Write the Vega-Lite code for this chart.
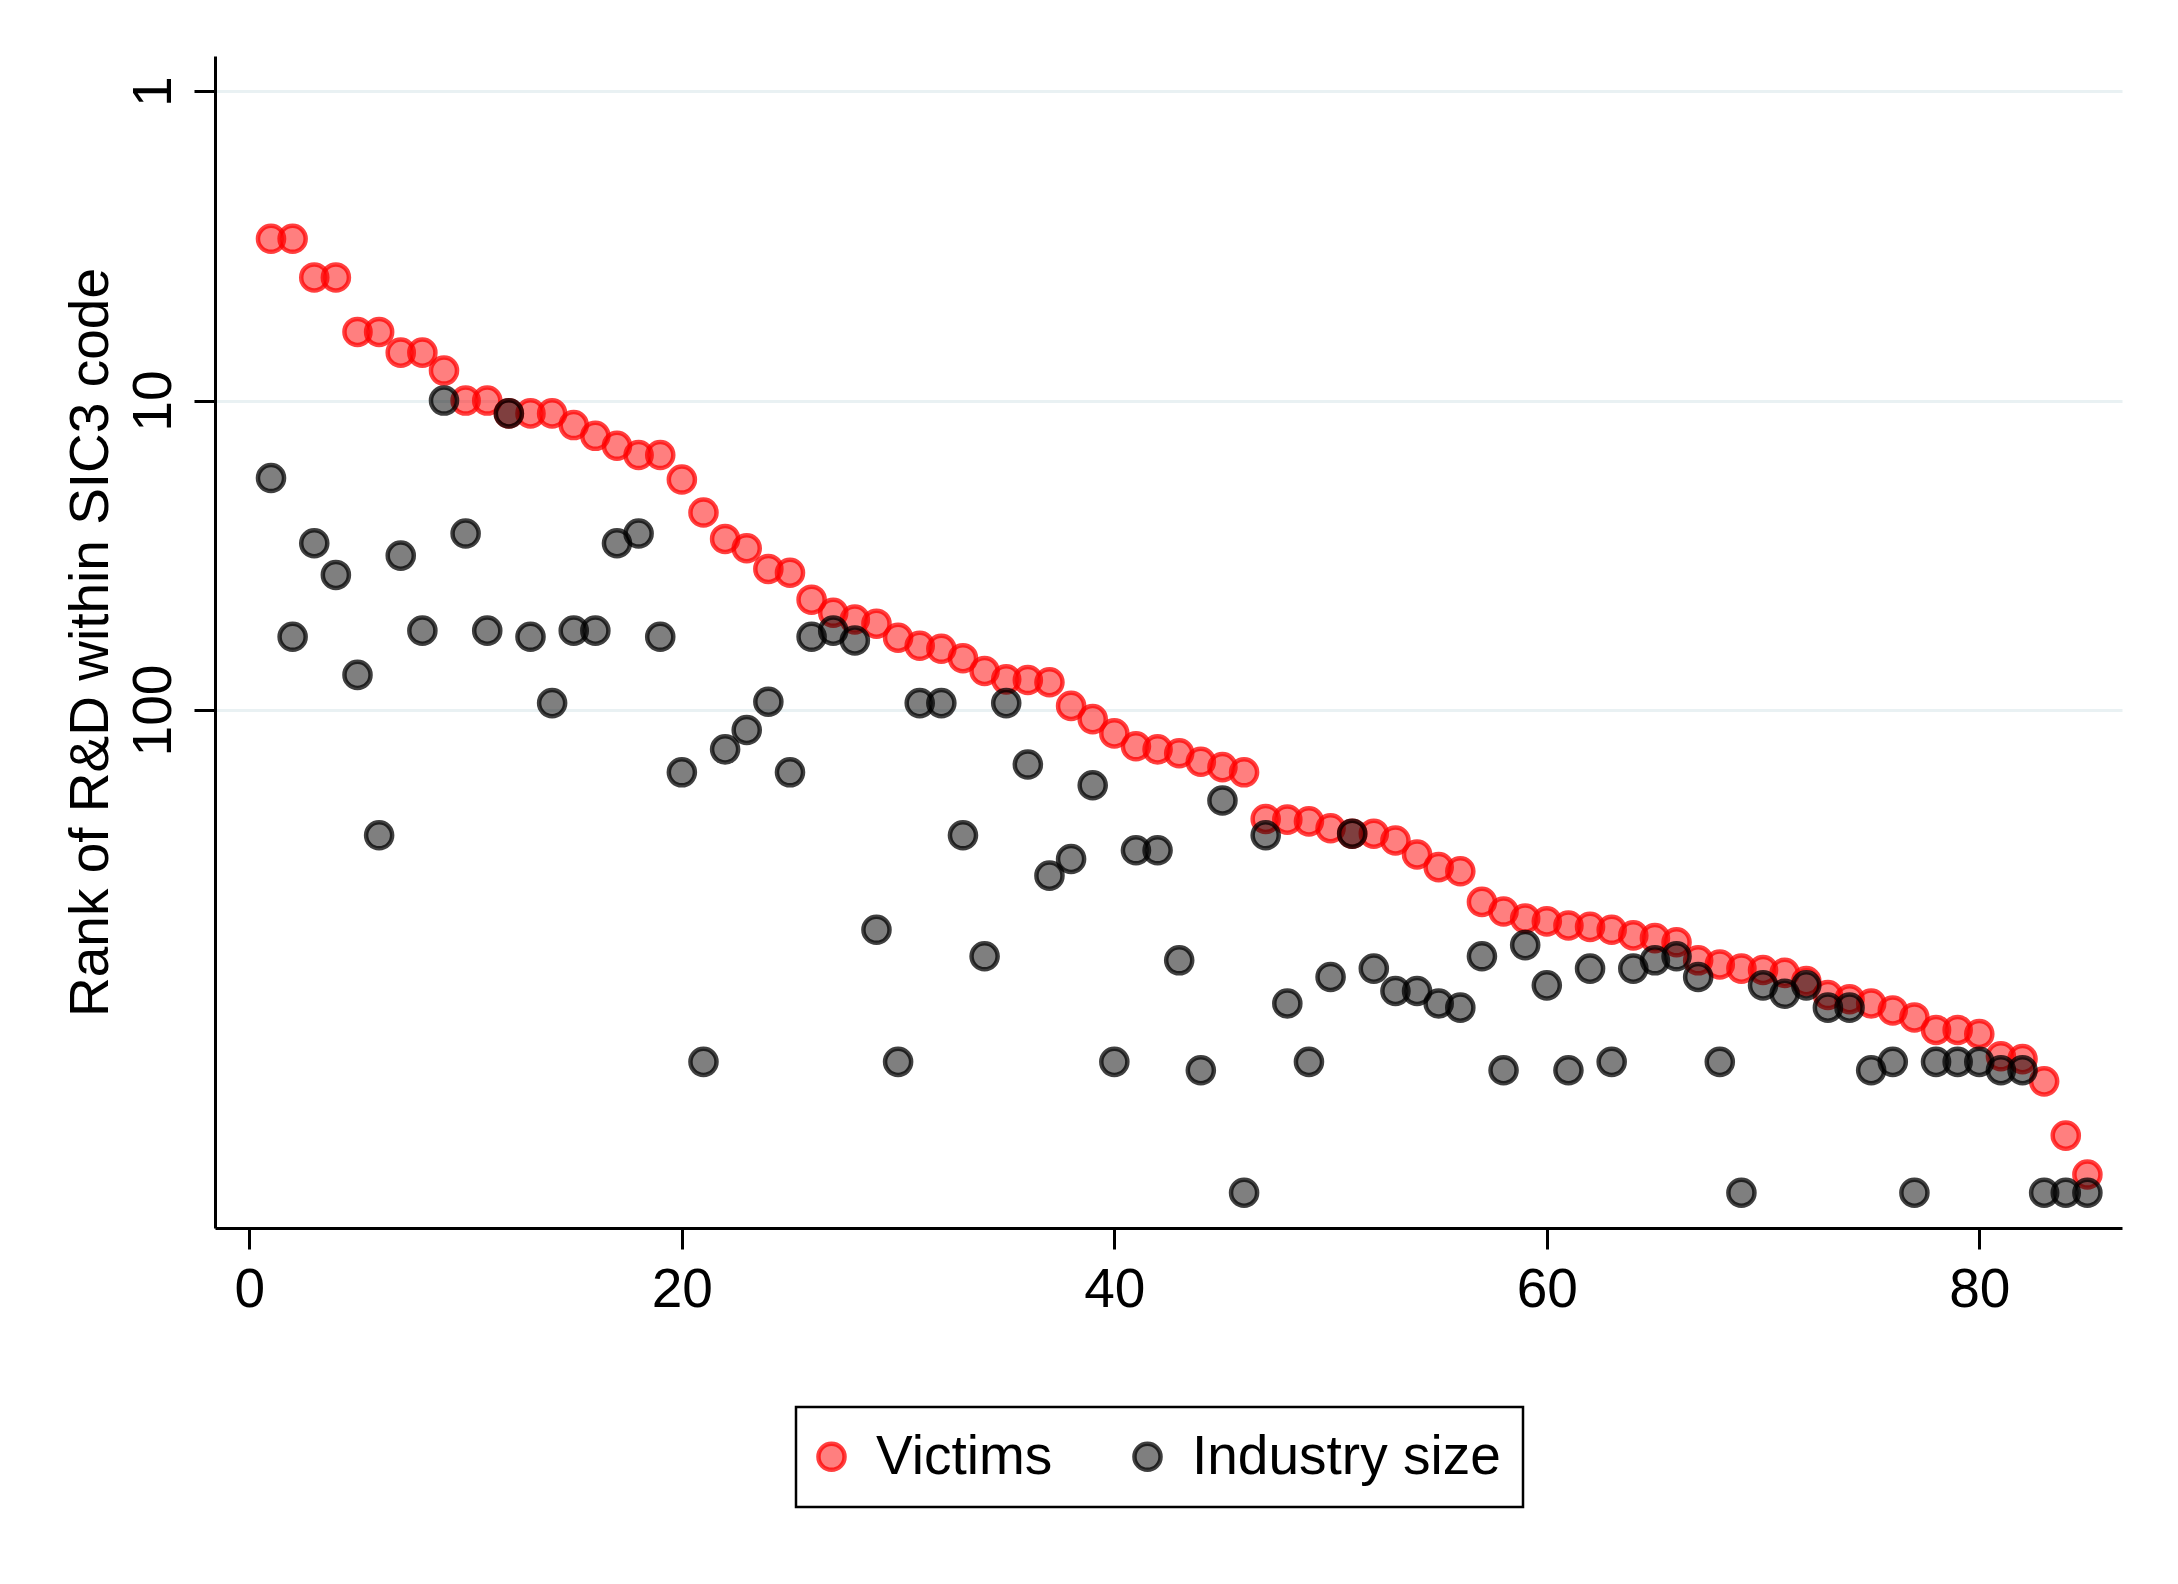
{
  "$schema": "https://vega.github.io/schema/vega-lite/v6.json",
  "width": 1907,
  "height": 1172,
  "autosize": "none",
  "padding": {"left": 215, "top": 56, "right": 56, "bottom": 356},
  "background": "white",
  "config": {
    "view": {"stroke": null},
    "font": "Liberation Sans",
    "legend": {"strokeWidth": 2.5}
  },
  "data": {
    "values": [
      {"x":1,"series":"Victims","rank":3},{"x":2,"series":"Victims","rank":3},{"x":3,"series":"Victims","rank":4},{"x":4,"series":"Victims","rank":4},{"x":5,"series":"Victims","rank":6},{"x":6,"series":"Victims","rank":6},{"x":7,"series":"Victims","rank":7},{"x":8,"series":"Victims","rank":7},{"x":9,"series":"Victims","rank":8},{"x":10,"series":"Victims","rank":10},
      {"x":11,"series":"Victims","rank":10},{"x":12,"series":"Victims","rank":11},{"x":13,"series":"Victims","rank":11},{"x":14,"series":"Victims","rank":11},{"x":15,"series":"Victims","rank":12},{"x":16,"series":"Victims","rank":13},{"x":17,"series":"Victims","rank":14},{"x":18,"series":"Victims","rank":15},{"x":19,"series":"Victims","rank":15},{"x":20,"series":"Victims","rank":18},
      {"x":21,"series":"Victims","rank":23},{"x":22,"series":"Victims","rank":28},{"x":23,"series":"Victims","rank":30},{"x":24,"series":"Victims","rank":35},{"x":25,"series":"Victims","rank":36},{"x":26,"series":"Victims","rank":44},{"x":27,"series":"Victims","rank":48.5},{"x":28,"series":"Victims","rank":51},{"x":29,"series":"Victims","rank":52.6},{"x":30,"series":"Victims","rank":58.4},
      {"x":31,"series":"Victims","rank":62},{"x":32,"series":"Victims","rank":63.4},{"x":33,"series":"Victims","rank":68},{"x":34,"series":"Victims","rank":74.8},{"x":35,"series":"Victims","rank":79.6},{"x":36,"series":"Victims","rank":80},{"x":37,"series":"Victims","rank":81.3},{"x":38,"series":"Victims","rank":97},{"x":39,"series":"Victims","rank":107},{"x":40,"series":"Victims","rank":119},
      {"x":41,"series":"Victims","rank":131},{"x":42,"series":"Victims","rank":134},{"x":43,"series":"Victims","rank":138},{"x":44,"series":"Victims","rank":147},{"x":45,"series":"Victims","rank":153},{"x":46,"series":"Victims","rank":159},{"x":47,"series":"Victims","rank":225},{"x":48,"series":"Victims","rank":226},{"x":49,"series":"Victims","rank":229},{"x":50,"series":"Victims","rank":241},
      {"x":51,"series":"Victims","rank":251},{"x":52,"series":"Victims","rank":251},{"x":53,"series":"Victims","rank":264},{"x":54,"series":"Victims","rank":293},{"x":55,"series":"Victims","rank":322},{"x":56,"series":"Victims","rank":332},{"x":57,"series":"Victims","rank":417},{"x":58,"series":"Victims","rank":448},{"x":59,"series":"Victims","rank":472},{"x":60,"series":"Victims","rank":482},
      {"x":61,"series":"Victims","rank":497},{"x":62,"series":"Victims","rank":502},{"x":63,"series":"Victims","rank":513},{"x":64,"series":"Victims","rank":535},{"x":65,"series":"Victims","rank":546},{"x":66,"series":"Victims","rank":563},{"x":67,"series":"Victims","rank":644},{"x":68,"series":"Victims","rank":664},{"x":69,"series":"Victims","rank":685},{"x":70,"series":"Victims","rank":692},
      {"x":71,"series":"Victims","rank":707},{"x":72,"series":"Victims","rank":752},{"x":73,"series":"Victims","rank":834},{"x":74,"series":"Victims","rank":860},{"x":75,"series":"Victims","rank":888},{"x":76,"series":"Victims","rank":935},{"x":77,"series":"Victims","rank":985},{"x":78,"series":"Victims","rank":1081},{"x":79,"series":"Victims","rank":1081},{"x":80,"series":"Victims","rank":1114},
      {"x":81,"series":"Victims","rank":1315},{"x":82,"series":"Victims","rank":1343},{"x":83,"series":"Victims","rank":1585},{"x":84,"series":"Victims","rank":2373},{"x":85,"series":"Victims","rank":3171},
      {"x":1,"series":"Industry size","rank":17.8},{"x":2,"series":"Industry size","rank":58},{"x":3,"series":"Industry size","rank":28.9},{"x":4,"series":"Industry size","rank":36.6},{"x":5,"series":"Industry size","rank":77},{"x":6,"series":"Industry size","rank":254},{"x":7,"series":"Industry size","rank":31.7},{"x":8,"series":"Industry size","rank":55.4},{"x":9,"series":"Industry size","rank":10},{"x":10,"series":"Industry size","rank":26.9},
      {"x":11,"series":"Industry size","rank":55.4},{"x":12,"series":"Industry size","rank":11},{"x":13,"series":"Industry size","rank":58},{"x":14,"series":"Industry size","rank":95},{"x":15,"series":"Industry size","rank":55.4},{"x":16,"series":"Industry size","rank":55.4},{"x":17,"series":"Industry size","rank":28.9},{"x":18,"series":"Industry size","rank":26.9},{"x":19,"series":"Industry size","rank":58},{"x":20,"series":"Industry size","rank":159},
      {"x":21,"series":"Industry size","rank":1371},{"x":22,"series":"Industry size","rank":134},{"x":23,"series":"Industry size","rank":116},{"x":24,"series":"Industry size","rank":94},{"x":25,"series":"Industry size","rank":159},{"x":26,"series":"Industry size","rank":58},{"x":27,"series":"Industry size","rank":55.4},{"x":28,"series":"Industry size","rank":59.6},{"x":29,"series":"Industry size","rank":513},{"x":30,"series":"Industry size","rank":1371},
      {"x":31,"series":"Industry size","rank":95},{"x":32,"series":"Industry size","rank":95},{"x":33,"series":"Industry size","rank":254},{"x":34,"series":"Industry size","rank":625},{"x":35,"series":"Industry size","rank":95},{"x":36,"series":"Industry size","rank":150},{"x":37,"series":"Industry size","rank":343},{"x":38,"series":"Industry size","rank":303},{"x":39,"series":"Industry size","rank":175},{"x":40,"series":"Industry size","rank":1371},
      {"x":41,"series":"Industry size","rank":284},{"x":42,"series":"Industry size","rank":284},{"x":43,"series":"Industry size","rank":644},{"x":44,"series":"Industry size","rank":1459},{"x":45,"series":"Industry size","rank":196},{"x":46,"series":"Industry size","rank":3630},{"x":47,"series":"Industry size","rank":254},{"x":48,"series":"Industry size","rank":888},{"x":49,"series":"Industry size","rank":1371},{"x":50,"series":"Industry size","rank":729},
      {"x":51,"series":"Industry size","rank":251},{"x":52,"series":"Industry size","rank":685},{"x":53,"series":"Industry size","rank":809},{"x":54,"series":"Industry size","rank":809},{"x":55,"series":"Industry size","rank":888},{"x":56,"series":"Industry size","rank":916},{"x":57,"series":"Industry size","rank":625},{"x":58,"series":"Industry size","rank":1459},{"x":59,"series":"Industry size","rank":575},{"x":60,"series":"Industry size","rank":776},
      {"x":61,"series":"Industry size","rank":1459},{"x":62,"series":"Industry size","rank":685},{"x":63,"series":"Industry size","rank":1371},{"x":64,"series":"Industry size","rank":685},{"x":65,"series":"Industry size","rank":644},{"x":66,"series":"Industry size","rank":625},{"x":67,"series":"Industry size","rank":729},{"x":68,"series":"Industry size","rank":1371},{"x":69,"series":"Industry size","rank":3630},{"x":70,"series":"Industry size","rank":776},
      {"x":71,"series":"Industry size","rank":826},{"x":72,"series":"Industry size","rank":776},{"x":73,"series":"Industry size","rank":916},{"x":74,"series":"Industry size","rank":916},{"x":75,"series":"Industry size","rank":1459},{"x":76,"series":"Industry size","rank":1371},{"x":77,"series":"Industry size","rank":3630},{"x":78,"series":"Industry size","rank":1371},{"x":79,"series":"Industry size","rank":1371},{"x":80,"series":"Industry size","rank":1371},
      {"x":81,"series":"Industry size","rank":1459},{"x":82,"series":"Industry size","rank":1459},{"x":83,"series":"Industry size","rank":3630},{"x":84,"series":"Industry size","rank":3630},{"x":85,"series":"Industry size","rank":3630}
    ]
  },
  "mark": {"type": "point", "shape": "circle", "filled": true, "size": 680, "strokeWidth": 4.5, "opacity": 1},
  "encoding": {
    "x": {
      "field": "x", "type": "quantitative",
      "scale": {"domain": [-1.59, 86.6], "nice": false, "zero": false},
      "axis": {
        "values": [0, 20, 40, 60, 80], "grid": false, "title": null,
        "domainColor": "black", "domainWidth": 3,
        "tickColor": "black", "tickWidth": 3, "tickSize": 21,
        "labelFontSize": 55, "labelColor": "black", "labelPadding": 14, "labelFont": "Liberation Sans"
      }
    },
    "y": {
      "field": "rank", "type": "quantitative",
      "scale": {"type": "log", "domain": [0.77, 4720], "reverse": true, "nice": false},
      "axis": {
        "values": [1, 10, 100], "grid": true, "gridColor": "#e9f1f3", "gridWidth": 3,
        "domainColor": "black", "domainWidth": 3,
        "tickColor": "black", "tickWidth": 3, "tickSize": 21,
        "labelFontSize": 55, "labelColor": "black", "labelFont": "Liberation Sans",
        "labelAngle": -90, "labelAlign": "center", "labelBaseline": "alphabetic", "labelPadding": 24,
        "labelExpr": "datum.value",
        "title": "Rank of R&D within SIC3 code",
        "titleFontSize": 55, "titleFontWeight": "normal", "titleColor": "black", "titleFont": "Liberation Sans",
        "titleAngle": -90, "titleBaseline": "alphabetic", "titleAlign": "center", "titleX": -108, "titleY": 586
      }
    },
    "fill": {
      "field": "series", "type": "nominal",
      "scale": {"domain": ["Victims", "Industry size"], "range": ["rgba(255,0,0,0.5)", "rgba(0,0,0,0.5)"]},
      "legend": {
        "title": null, "orient": "none", "legendX": 581, "legendY": 1351, "direction": "horizontal",
        "strokeColor": "black", "padding": 22, "labelFontSize": 55, "labelColor": "black", "labelFont": "Liberation Sans", "labelLimit": 1000,
        "symbolType": "circle", "symbolSize": 680, "symbolStrokeWidth": 4.5, "symbolOffset": -14, "labelOffset": 17, "columnPadding": 72
      }
    },
    "stroke": {
      "field": "series", "type": "nominal",
      "scale": {"domain": ["Victims", "Industry size"], "range": ["rgba(255,0,0,0.75)", "rgba(0,0,0,0.75)"]},
      "legend": {
        "title": null, "orient": "none", "legendX": 581, "legendY": 1351, "direction": "horizontal",
        "strokeColor": "black", "padding": 22, "labelFontSize": 55, "labelColor": "black", "labelFont": "Liberation Sans", "labelLimit": 1000,
        "symbolType": "circle", "symbolSize": 680, "symbolStrokeWidth": 4.5, "symbolOffset": -14, "labelOffset": 17, "columnPadding": 72
      }
    }
  }
}
